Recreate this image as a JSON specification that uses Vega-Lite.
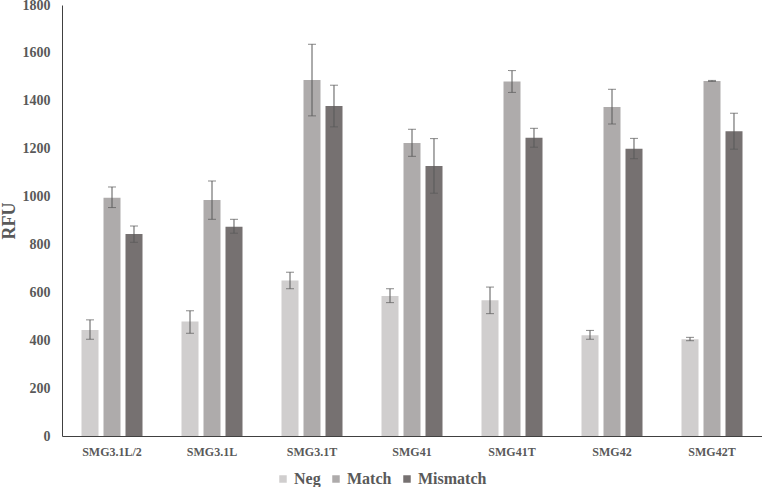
{
  "$schema": "https://vega.github.io/schema/vega-lite/v6.json",
  "width": 700,
  "height": 431,
  "autosize": {"type": "none"},
  "padding": {"left": 62, "top": 5, "right": 0, "bottom": 51},
  "config": {
    "view": {"stroke": null},
    "font": "Liberation Serif",
    "legend": {"labelFont": "Liberation Serif", "labelFontWeight": "bold", "labelFontSize": 16, "labelColor": "#595959", "padding": 0}
  },
  "data": {
    "values": [
      {"cat": "SMG3.1L/2", "cond": "Neg", "value": 443, "lo": 404, "hi": 485},
      {"cat": "SMG3.1L/2", "cond": "Match", "value": 995, "lo": 954, "hi": 1040},
      {"cat": "SMG3.1L/2", "cond": "Mismatch", "value": 844, "lo": 809, "hi": 877},
      {"cat": "SMG3.1L", "cond": "Neg", "value": 478, "lo": 429, "hi": 523},
      {"cat": "SMG3.1L", "cond": "Match", "value": 986, "lo": 905, "hi": 1065},
      {"cat": "SMG3.1L", "cond": "Mismatch", "value": 874, "lo": 847, "hi": 905},
      {"cat": "SMG3.1T", "cond": "Neg", "value": 649, "lo": 615, "hi": 684},
      {"cat": "SMG3.1T", "cond": "Match", "value": 1487, "lo": 1337, "hi": 1636},
      {"cat": "SMG3.1T", "cond": "Mismatch", "value": 1378, "lo": 1291, "hi": 1465},
      {"cat": "SMG41", "cond": "Neg", "value": 585, "lo": 557, "hi": 615},
      {"cat": "SMG41", "cond": "Match", "value": 1224, "lo": 1168, "hi": 1281},
      {"cat": "SMG41", "cond": "Mismatch", "value": 1128, "lo": 1014, "hi": 1242},
      {"cat": "SMG41T", "cond": "Neg", "value": 567, "lo": 511, "hi": 622},
      {"cat": "SMG41T", "cond": "Match", "value": 1481, "lo": 1435, "hi": 1526},
      {"cat": "SMG41T", "cond": "Mismatch", "value": 1246, "lo": 1206, "hi": 1285},
      {"cat": "SMG42", "cond": "Neg", "value": 421, "lo": 404, "hi": 441},
      {"cat": "SMG42", "cond": "Match", "value": 1374, "lo": 1303, "hi": 1448},
      {"cat": "SMG42", "cond": "Mismatch", "value": 1200, "lo": 1158, "hi": 1243},
      {"cat": "SMG42T", "cond": "Neg", "value": 404, "lo": 398, "hi": 412},
      {"cat": "SMG42T", "cond": "Match", "value": 1483, "lo": 1481, "hi": 1485},
      {"cat": "SMG42T", "cond": "Mismatch", "value": 1273, "lo": 1198, "hi": 1348}
    ]
  },
  "encoding": {
    "x": {
      "field": "cat", "type": "nominal", "sort": null,
      "scale": {"paddingInner": 0.39, "paddingOuter": 0.195},
      "axis": {
        "title": null, "labelAngle": 0, "ticks": false,
        "domainColor": "#404040", "domainWidth": 1,
        "labelFont": "Liberation Serif", "labelFontWeight": "bold",
        "labelFontSize": 12, "labelColor": "#595959", "labelPadding": 10
      }
    },
    "xOffset": {
      "field": "cond", "type": "nominal", "sort": ["Neg", "Match", "Mismatch"],
      "scale": {"paddingInner": 0.227, "paddingOuter": 0}
    }
  },
  "layer": [
    {
      "mark": {"type": "bar"},
      "encoding": {
        "y": {
          "field": "value", "type": "quantitative",
          "scale": {"domain": [0, 1800], "nice": false},
          "axis": {
            "title": "RFU", "values": [0, 200, 400, 600, 800, 1000, 1200, 1400, 1600, 1800],
            "format": "d",
            "grid": false, "ticks": false, "domainColor": "#404040", "domainWidth": 1,
            "labelFont": "Liberation Serif", "labelFontWeight": "bold", "labelFontSize": 14,
            "labelColor": "#595959", "labelPadding": 12,
            "titleFont": "Liberation Serif", "titleFontWeight": "bold", "titleFontSize": 18,
            "titleColor": "#595959", "titlePadding": 4
          }
        },
        "color": {
          "field": "cond", "type": "nominal", "sort": ["Neg", "Match", "Mismatch"],
          "scale": {"domain": ["Neg", "Match", "Mismatch"], "range": ["#d0cece", "#aeabab", "#767171"]},
          "legend": {
            "title": null, "orient": "none", "direction": "horizontal",
            "legendX": 213, "legendY": 466,
            "symbolType": "square", "symbolSize": 56, "symbolStrokeWidth": 0,
            "labelFont": "Liberation Serif", "labelFontWeight": "bold", "labelFontSize": 16,
            "labelColor": "#595959", "columnPadding": 7, "labelOffset": 3
          }
        }
      }
    },
    {
      "mark": {"type": "rule", "color": "#595959", "strokeWidth": 1},
      "encoding": {
        "y": {"field": "lo", "type": "quantitative"},
        "y2": {"field": "hi"}
      }
    },
    {
      "mark": {"type": "tick", "color": "#595959", "size": 8, "thickness": 1},
      "encoding": {"y": {"field": "lo", "type": "quantitative"}}
    },
    {
      "mark": {"type": "tick", "color": "#595959", "size": 8, "thickness": 1},
      "encoding": {"y": {"field": "hi", "type": "quantitative"}}
    }
  ]
}
